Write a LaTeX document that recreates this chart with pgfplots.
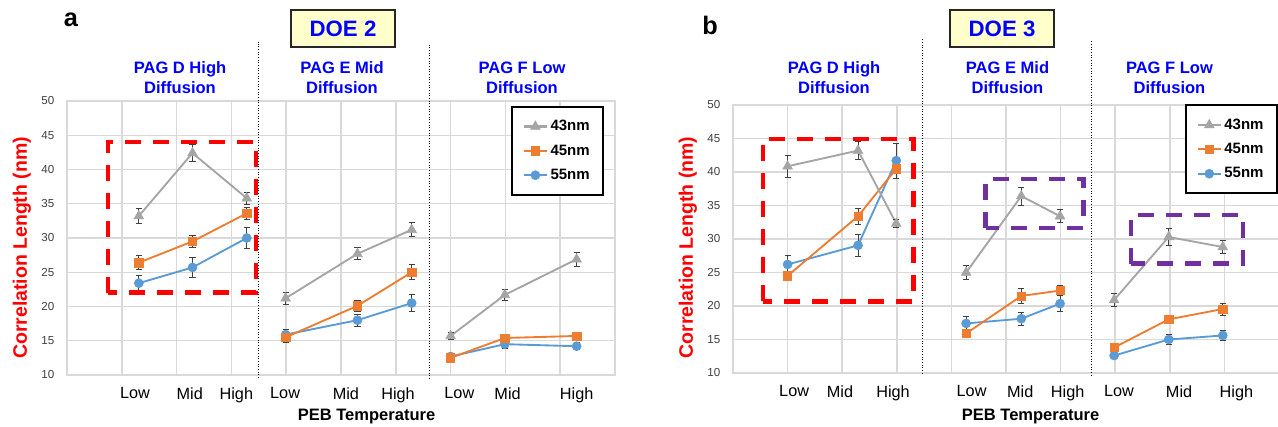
\documentclass[border=0pt]{standalone}
\usepackage{fontspec}
\setmainfont{Liberation Sans}
\usepackage{pgfplots}
\pgfplotsset{compat=1.18}
\definecolor{c43}{HTML}{A5A5A5}
\definecolor{c45}{HTML}{ED7D31}
\definecolor{c55}{HTML}{5B9BD5}
\definecolor{hblue}{HTML}{0000FF}
\definecolor{ppl}{HTML}{7030A0}
\definecolor{doefill}{HTML}{FFFFCC}
\definecolor{gridc}{HTML}{D9D9D9}
\definecolor{ebc}{HTML}{404040}
\pgfplotsset{
 s43/.style={c43, mark=triangle*, mark size=4.2pt, line width=1.4pt, mark options={solid,line width=0.4pt}},
 s45/.style={c45, mark=square*, mark size=3.1pt, line width=1.4pt, mark options={solid,line width=0.4pt}},
 s55/.style={c55, mark=*, mark size=3.4pt, line width=1.4pt, mark options={solid,line width=0.4pt}},
 eb/.style={/pgfplots/error bars/y dir=both, /pgfplots/error bars/y explicit,
   /pgfplots/error bars/error bar style={ebc, line width=0.7pt, solid},
   /pgfplots/error bars/error mark options={rotate=90, mark size=2.3pt, ebc, line width=0.7pt}},
 panel/.style={scale only axis, xmin=0, xmax=10, ymin=10, ymax=50,
   xtick={0,...,10}, xticklabels={}, ytick={10,15,...,50},
   grid=major, major grid style={gridc, line width=1.1pt},
   axis line style={draw=gridc, line width=1.1pt},
   major tick length=0pt,
   xticklabel style={font=\fontsize{12.2}{14}\selectfont, text=black, yshift=-6pt},
   yticklabel style={font=\fontsize{8.7}{10}\selectfont, text=black!75, xshift=-6pt},
   /pgf/number format/assume math mode=true,
   extra x tick labels={Low,Mid,High,Low,Mid,High,Low,Mid,High},
   extra x tick style={grid=none, major tick length=0pt},
   clip=false,
   legend cell align=left,
   legend image code/.code={\draw[line width=1.6pt, mark repeat=2, mark phase=2] plot coordinates {(0cm,0cm) (0.3cm,0cm) (0.6cm,0cm)};},
   legend style={draw=black, line width=1.5pt, fill=white, inner xsep=8pt, inner ysep=8pt,
     row sep=5pt, font=\fontsize{11.25}{13}\selectfont\bfseries},
 },
}
\tikzset{
 dbox/.style={line width=3.5pt, dash pattern=on 12pt off 9pt},
 sepline/.style={black, line width=0.8pt, dash pattern=on 0.8pt off 1.2pt},
 hd/.style={align=center, font=\fontsize{12.4}{15}\selectfont\bfseries, text=hblue},
}
\begin{document}
\begin{tikzpicture}
\useasboundingbox (0,0) rectangle (958.5pt,320.25pt);
% ---------------- Panel a ----------------
\begin{axis}[panel, at={(50.25pt,39pt)}, anchor=south west, width=411pt, height=205.5pt,
  extra x ticks={1.24,2.24,3.09,3.98,5.09,6.04,7.16,8.04,9.30},
  legend style={at={(0.98,0.982)}, anchor=north east}]
% PAG D
\addplot[s55, eb, forget plot] coordinates {(1.31,23.4) +- (0,1.15) (2.29,25.7) +- (0,1.45) (3.28,30.0) +- (0,1.5)};
\addplot[s45, eb, forget plot] coordinates {(1.31,26.4) +- (0,1.0) (2.29,29.5) +- (0,0.9) (3.28,33.6) +- (0,0.85)};
\addplot[s43, eb, forget plot] coordinates {(1.31,33.2) +- (0,1.1) (2.29,42.4) +- (0,1.3) (3.28,35.8) +- (0,0.9)};
% PAG E
\addplot[s55, eb, forget plot] coordinates {(3.99,15.9) +- (0,0.7) (5.30,18.0) +- (0,0.9) (6.29,20.5) +- (0,1.25)};
\addplot[s45, eb, forget plot] coordinates {(3.99,15.5) +- (0,0.7) (5.30,20.1) +- (0,0.85) (6.29,25.0) +- (0,1.1)};
\addplot[s43, eb, forget plot] coordinates {(3.99,21.2) +- (0,0.9) (5.30,27.7) +- (0,0.9) (6.29,31.2) +- (0,1.0)};
% PAG F
\addplot[s55, eb, forget plot] coordinates {(7.0,12.7) +- (0,0.4) (7.99,14.5) +- (0,0.7) (9.30,14.2) +- (0,0.5)};
\addplot[s45, eb, forget plot] coordinates {(7.0,12.5) +- (0,0.3) (7.99,15.4) +- (0,0.4) (9.30,15.7) +- (0,0.4)};
\addplot[s43, eb, forget plot] coordinates {(7.0,15.7) +- (0,0.5) (7.99,21.7) +- (0,0.8) (9.30,26.9) +- (0,1.0)};
\addlegendimage{s43}\addlegendentry{43nm}
\addlegendimage{s45}\addlegendentry{45nm}
\addlegendimage{s55}\addlegendentry{55nm}
\draw[sepline] (axis cs:3.49,9.56) -- (axis cs:3.49,58.66);
\draw[sepline] (axis cs:6.62,9.42) -- (axis cs:6.62,58.47);
\draw[red, dbox] (axis cs:0.75,22) rectangle (axis cs:3.45,44);
\end{axis}
% ---------------- Panel b ----------------
\begin{axis}[panel, at={(549.75pt,40.5pt)}, anchor=south west, width=409.5pt, height=201pt,
  extra x ticks={1.12,1.96,2.93,4.37,5.26,6.13,7.07,8.17,9.22},
  legend style={at={(0.998,1.002)}, anchor=north east}]
% PAG D
\addplot[s55, eb, forget plot] coordinates {(1.0,26.2) +- (0,1.3) (2.29,29.05) +- (0,1.6) (2.99,41.7) +- (0,2.6)};
\addplot[s45, eb, forget plot] coordinates {(1.0,24.5) +- (0,0.6) (2.29,33.4) +- (0,1.2) (2.99,40.5) +- (0,1.5)};
\addplot[s43, eb, forget plot] coordinates {(1.0,40.85) +- (0,1.6) (2.29,43.2) +- (0,1.3) (2.99,32.3) +- (0,0.6)};
% PAG E
\addplot[s55, eb, forget plot] coordinates {(4.27,17.4) +- (0,1.05) (5.28,18.1) +- (0,1.0) (5.99,20.35) +- (0,1.15)};
\addplot[s45, eb, forget plot] coordinates {(4.27,15.9) +- (0,0.4) (5.28,21.5) +- (0,1.05) (5.99,22.3) +- (0,0.7)};
\addplot[s43, eb, forget plot] coordinates {(4.27,25.0) +- (0,1.05) (5.28,36.4) +- (0,1.35) (5.99,33.4) +- (0,1.0)};
% PAG F
\addplot[s55, eb, forget plot] coordinates {(6.98,12.6) +- (0,0.4) (7.98,15.0) +- (0,0.7) (8.97,15.6) +- (0,0.8)};
\addplot[s45, eb, forget plot] coordinates {(6.98,13.8) +- (0,0.6) (7.98,18.0) +- (0,0.6) (8.97,19.55) +- (0,0.9)};
\addplot[s43, eb, forget plot] coordinates {(6.98,20.9) +- (0,0.95) (7.98,30.3) +- (0,1.25) (8.97,28.8) +- (0,1.0)};
\addlegendimage{s43}\addlegendentry{43nm}
\addlegendimage{s45}\addlegendentry{45nm}
\addlegendimage{s55}\addlegendentry{55nm}
\draw[sepline] (axis cs:3.47,9.9) -- (axis cs:3.47,59.9);
\draw[sepline] (axis cs:6.57,9.6) -- (axis cs:6.57,59.7);
\draw[red, dbox] (axis cs:0.55,20.7) rectangle (axis cs:3.3,44.9);
\draw[ppl, dbox] (axis cs:4.63,31.65) rectangle (axis cs:6.42,38.95);
\draw[ppl, dbox] (axis cs:7.29,26.3) rectangle (axis cs:9.34,33.6);
\end{axis}
% ---------------- Texts ----------------
\node[font=\fontsize{19}{22}\selectfont\bfseries] at (53.25pt,305.25pt) {a};
\node[font=\fontsize{19}{22}\selectfont\bfseries] at (532.5pt,301.5pt) {b};
\node[draw=black!85, line width=1.5pt, fill=doefill, minimum width=78pt, minimum height=27.75pt,
  font=\fontsize{16.7}{20}\selectfont\bfseries, text=hblue] at (257.25pt,298.9pt) {DOE 2};
\node[draw=black!85, line width=1.5pt, fill=doefill, minimum width=78pt, minimum height=27.75pt,
  font=\fontsize{16.7}{20}\selectfont\bfseries, text=hblue] at (751.5pt,298.9pt) {DOE 3};
\node[hd] at (135pt,262pt) {PAG D High\\Diffusion};
\node[hd] at (256.5pt,262pt) {PAG E Mid\\Diffusion};
\node[hd] at (391.5pt,262pt) {PAG F Low\\Diffusion};
\node[hd] at (625.5pt,262pt) {PAG D High\\Diffusion};
\node[hd] at (755.6pt,262pt) {PAG E Mid\\Diffusion};
\node[hd] at (877.1pt,262pt) {PAG F Low\\Diffusion};
\node[rotate=90, font=\fontsize{14.6}{17}\selectfont\bfseries, text=red] at (16.5pt,134.25pt) {Correlation Length (nm)};
\node[rotate=90, font=\fontsize{14.6}{17}\selectfont\bfseries, text=red] at (516pt,134.6pt) {Correlation Length (nm)};
\node[font=\fontsize{12.4}{15}\selectfont\bfseries] at (274.9pt,7.7pt) {PEB Temperature};
\node[font=\fontsize{12.4}{15}\selectfont\bfseries] at (772.9pt,7.7pt) {PEB Temperature};
\end{tikzpicture}
\end{document}
